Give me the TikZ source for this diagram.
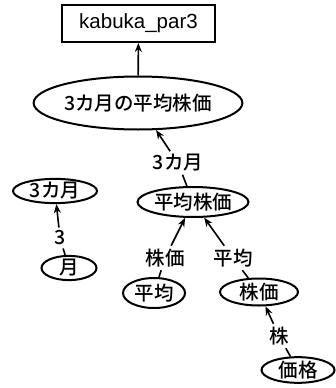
\documentclass[tikz,border=0pt]{standalone}
\usepackage{fontspec}
\setmainfont{Noto Sans CJK JP}[BoldFont={Noto Sans CJK JP Medium}]
\newfontfamily\latinsans{Liberation Sans}
\usetikzlibrary{shapes.geometric,arrows.meta}
\tikzset{
  every node/.style={font=\fontsize{19.5}{22}\selectfont\bfseries},
  ell/.style={draw, ellipse, line width=2pt, inner sep=0pt},
  boxnode/.style={draw, rectangle, line width=2pt, minimum width=153pt, minimum height=37pt, inner sep=0pt},
  lab/.style={inner sep=3pt},
  conn/.style={line width=1.6pt},
  arr/.style={line width=1.6pt, -{Stealth[length=9pt,width=7pt]}},
}
\begin{document}
\begin{tikzpicture}[x=1pt,y=-1pt]
\useasboundingbox[fill=white] (0,0) rectangle (335,388);
\node[boxnode] (top) at (138.5,23.5) {\latinsans\mdseries\fontsize{20.5}{22}\selectfont kabuka\_par3};
\node[ell, minimum width=196pt, minimum height=53pt] (main) at (138,103) {3カ月の平均株価};
\node[ell, minimum width=111pt, minimum height=30pt] (avg) at (193,202) {平均株価};
\node[ell, minimum width=84pt, minimum height=19pt] (m3) at (55,191) {3カ月};
\node[ell, minimum width=55pt, minimum height=22pt] (tsuki) at (69,268) {月};
\node[ell, minimum width=62pt, minimum height=30pt] (heikin) at (154,293) {平均};
\node[ell, minimum width=78pt, minimum height=27pt] (kabuka) at (259,292) {株価};
\node[ell, minimum width=73pt, minimum height=20pt] (kakaku) at (298,370) {価格};

\node[lab] (l1) at (178,163) {3カ月};
\node[lab] (l2) at (60,238) {3};
\node[lab] (l3) at (165,258) {株価};
\node[lab] (l4) at (233,258) {平均};
\node[lab] (l5) at (279,336) {株};

\draw[arr] (main) -- (top);
\draw[conn] (avg) -- (l1);
\draw[arr] (l1) -- (main);
\draw[conn] (tsuki) -- (l2);
\draw[arr] (l2) -- (m3);
\draw[conn] (heikin) -- (l3);
\draw[arr] (l3) -- (avg);
\draw[conn] (kabuka) -- (l4);
\draw[arr] (l4) -- (avg);
\draw[conn] (kakaku) -- (l5);
\draw[arr] (l5) -- (kabuka);
\end{tikzpicture}
\end{document}
